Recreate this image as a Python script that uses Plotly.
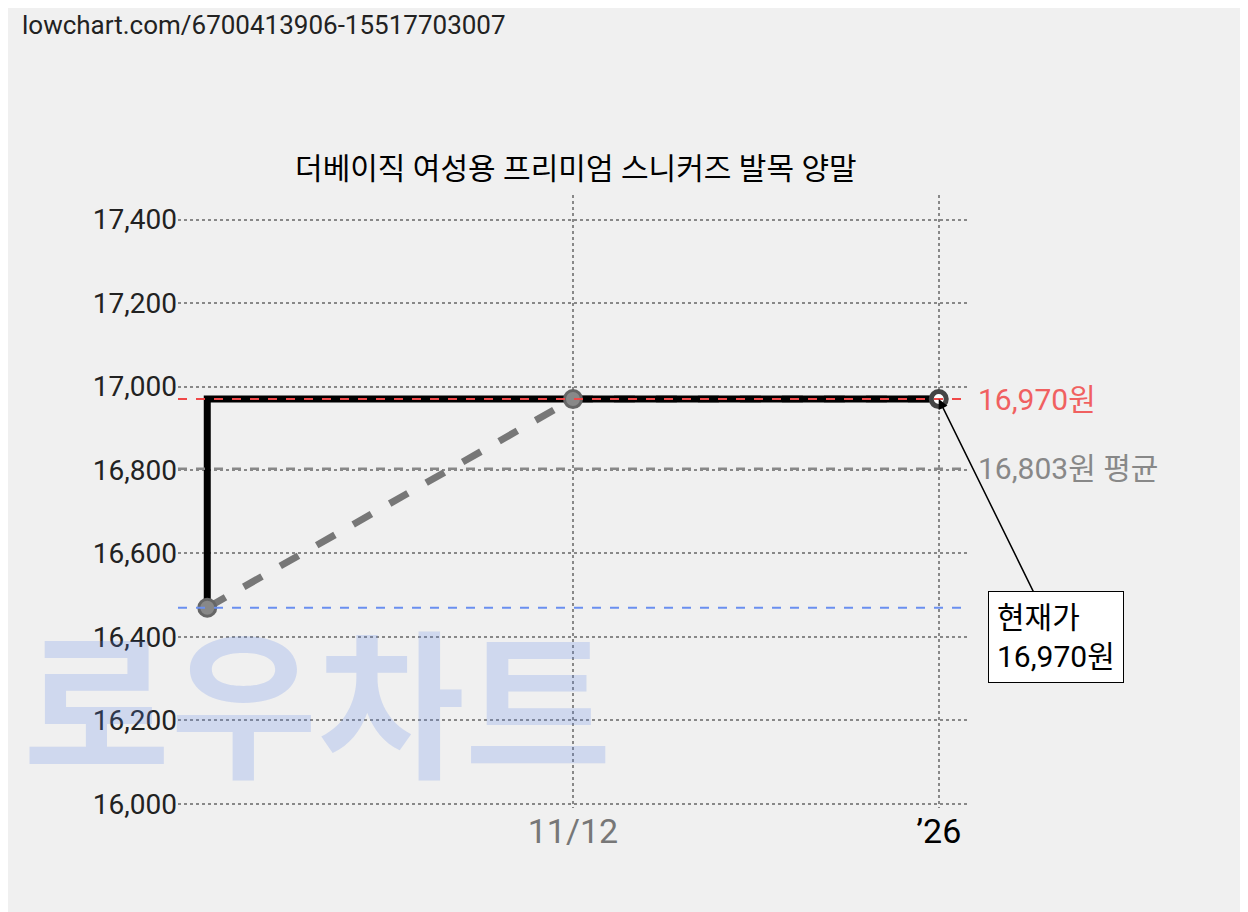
import plotly.graph_objects as go

dates = ["2025-09-23", "2025-11-12", "2026-01-01"]
prices = [16470, 16970, 16970]
avg_price = 16803
cur_price = 16970
min_price = 16470
y_ticks = [16000, 16200, 16400, 16600, 16800, 17000, 17200, 17400]
x_tickvals = ["2025-11-12", "2026-01-01"]
x_ticktext = ["<span style='color:#777'>11/12</span>", "’26"]
title = "더베이직 여성용 프리미엄 스니커즈 발목 양말"

F = "Roboto, Noto Sans CJK KR"
fig = go.Figure()
fig.add_trace(go.Scatter(x=dates, y=prices, mode="lines", line=dict(color="#777", width=7, dash="dash"), hoverinfo="skip"))
fig.add_trace(go.Scatter(x=dates, y=prices, mode="lines", line=dict(color="black", width=7, shape="vh"), hoverinfo="skip"))
fig.add_trace(go.Scatter(x=dates[:2], y=prices[:2], mode="markers", marker=dict(size=17, color="#888", line=dict(color="#666", width=3))))
fig.add_trace(go.Scatter(x=dates[2:], y=prices[2:], mode="markers", marker=dict(size=15, color="white", line=dict(color="#444", width=5))))

fig.add_hline(y=cur_price, line=dict(color="#f04848", width=2, dash="dash"))
fig.add_hline(y=avg_price, line=dict(color="#888", width=2.5, dash="dash"))
fig.add_hline(y=min_price, line=dict(color="#6a8ff0", width=2, dash="dash"))

fig.add_annotation(x=1.0, xref="paper", y=cur_price, text="16,970원", showarrow=False, xanchor="left",
                   font=dict(size=30, color="#f06060", family=F), xshift=8)
fig.add_annotation(x=1.0, xref="paper", y=avg_price, text="16,803원 평균", showarrow=False, xanchor="left",
                   font=dict(size=30, color="#888", family=F), xshift=8)
fig.add_annotation(x=dates[2], y=cur_price, text="현재가<br>16,970원", ax=117, ay=238,
                   showarrow=True, arrowhead=2, arrowsize=1.3, arrowwidth=1.5, arrowcolor="black",
                   bgcolor="white", bordercolor="black", borderwidth=1, borderpad=8, align="left",
                   font=dict(size=30, color="black", family=F))
fig.add_annotation(x=0.177, y=0.183, xref="paper", yref="paper", text="<b>로우차트</b>", showarrow=False,
                   font=dict(size=160, color="rgba(90,130,230,0.22)", family="Noto Sans CJK KR"),
                   xanchor="center", yanchor="middle")
fig.add_annotation(x=-0.2, y=1.305, xref="paper", yref="paper", text="lowchart.com/6700413906-15517703007",
                   showarrow=False, xanchor="left", yanchor="top", font=dict(size=26, color="#222", family=F))

fig.update_layout(
    width=1248, height=912, paper_bgcolor="#f0f0f0", plot_bgcolor="#f0f0f0", showlegend=False,
    margin=dict(l=170, r=288, t=187, b=112),
    title=dict(text=title, x=0.455, y=0.835, xanchor="center", font=dict(size=30, color="black", family=F)),
    xaxis=dict(range=["2025-09-19", "2026-01-05"], tickvals=x_tickvals, ticktext=x_ticktext, showgrid=True,
               griddash="dot", gridcolor="#888", gridwidth=2, zeroline=False, showline=False,
               tickfont=dict(size=34, color="black", family=F), ticks=""),
    yaxis=dict(range=[15990, 17459], tickvals=y_ticks, tickformat=",", showgrid=True, griddash="dot",
               gridcolor="#888", gridwidth=2, zeroline=False, tickfont=dict(size=28, color="#222", family=F), ticks=""),
)
fig.write_html("out.html")
